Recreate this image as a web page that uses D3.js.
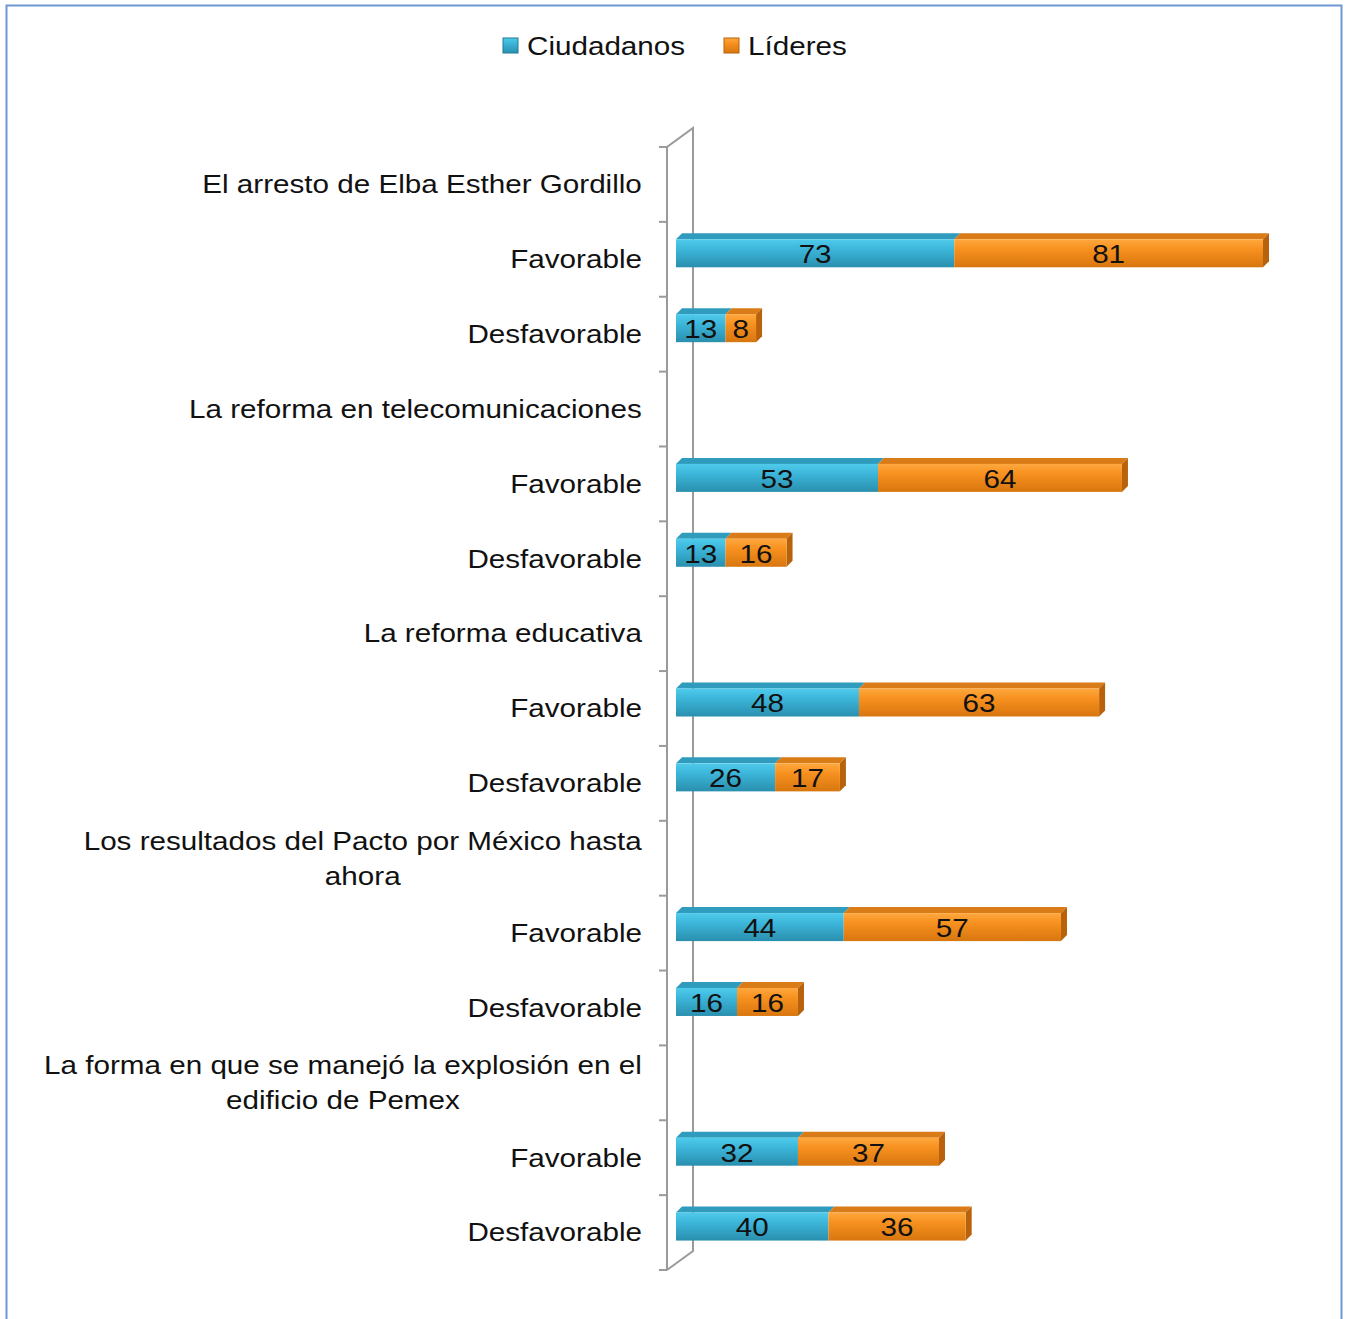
<!DOCTYPE html>
<html>
<head>
<meta charset="utf-8">
<script src="https://cdn.jsdelivr.net/npm/d3@7"></script>
<style>
  body { margin: 0; background: #fff; }
  text { font-family: "Liberation Sans", Arial, sans-serif; fill: #111; }
</style>
</head>
<body>
<div id="chart"></div>
<script>
// data
var categories = [
  "El arresto de Elba Esther Gordillo", "Favorable", "Desfavorable",
  "La reforma en telecomunicaciones", "Favorable", "Desfavorable",
  "La reforma educativa", "Favorable", "Desfavorable",
  "Los resultados del Pacto por México hasta ahora", "Favorable", "Desfavorable",
  "La forma en que se manejó la explosión en el edificio de Pemex", "Favorable", "Desfavorable"
];
var ciudadanos = [null, 73, 13, null, 53, 13, null, 48, 26, null, 44, 16, null, 32, 40];
var lideres = [null, 81, 8, null, 64, 16, null, 63, 17, null, 57, 16, null, 37, 36];
var seriesNames = ["Ciudadanos", "Líderes"];

const W = 1346, H = 1319;
const SX = 1.14;          // text is a bit stretched horizontally
const FS = 26;
const depthX = 6, depthY = 6;
const barH = 28;

const svg = d3.select("#chart").append("svg")
  .attr("width", W).attr("height", H);

const defs = svg.append("defs");
function grad(id, stops) {
  const g = defs.append("linearGradient").attr("id", id)
    .attr("x1", 0).attr("y1", 0).attr("x2", 0).attr("y2", 1);
  stops.forEach(s => g.append("stop").attr("offset", s[0]).attr("stop-color", s[1]));
}
grad("gBlue", [[0, "#4fcbec"], [0.35, "#3cb6da"], [1, "#2a8fae"]]);
grad("gOrange", [[0, "#ffa83f"], [0.35, "#f7911f"], [1, "#d8760f"]]);

const colors = {
  front: ["url(#gBlue)", "url(#gOrange)"],
  top: ["#2f9cbd", "#d97b17"],
  side: ["#237a95", "#b9620c"]
};

// outer border
svg.append("rect")
  .attr("x", 6.5).attr("y", 5.5)
  .attr("width", 1335).attr("height", 1330)
  .attr("fill", "none").attr("stroke", "#6d98d4").attr("stroke-width", 2);

// scales
const y = d3.scaleBand()
  .domain(categories.map((d, i) => i))
  .range([147, 1270])
  .padding(0);

const totalMax = d3.max(categories.map((d, i) => (ciudadanos[i] || 0) + (lideres[i] || 0)));
const x = d3.scaleLinear().domain([0, totalMax]).range([676, 1263]);

// 3d axis walls
const axisG = svg.append("g");
const frontX = 667, backX = 693, wallDy = 19;
axisG.append("path")
  .attr("d", `M${frontX},${y.range()[1]} L${frontX},${y.range()[0]} L${backX},${y.range()[0] - wallDy} L${backX},${y.range()[1] - wallDy} L${frontX},${y.range()[1]}`)
  .attr("fill", "none").attr("stroke", "#9a9a9a").attr("stroke-width", 2);

const tickPos = categories.map((d, i) => y(i)).concat([y.range()[1]]);
axisG.selectAll(".tick")
  .data(tickPos)
  .join("line")
  .attr("class", "tick")
  .attr("x1", frontX - 8).attr("x2", frontX)
  .attr("y1", d => d).attr("y2", d => d)
  .attr("stroke", "#9a9a9a").attr("stroke-width", 2);

// category labels
const labelRight = 642, maxW = 610, lineH = 35;
const labG = svg.append("g");
categories.forEach(function(c, i) {
  const cy = y(i) + y.bandwidth() / 2;
  // wrap words
  const words = c.split(" ");
  const tmp = labG.append("text").attr("font-size", FS);
  let lines = [], cur = "";
  words.forEach(function(w) {
    const test = cur ? cur + " " + w : w;
    tmp.text(test);
    if (tmp.node().getComputedTextLength() * SX > maxW && cur) {
      lines.push(cur);
      cur = w;
    } else {
      cur = test;
    }
  });
  lines.push(cur);
  let widest = 0;
  lines.forEach(l => { tmp.text(l); widest = Math.max(widest, tmp.node().getComputedTextLength() * SX); });
  tmp.remove();
  const cx = labelRight - widest / 2;
  const y0 = cy - (lines.length - 1) * lineH / 2;
  lines.forEach(function(l, k) {
    labG.append("text")
      .attr("transform", `translate(${cx},${y0 + k * lineH}) scale(${SX},1)`)
      .attr("text-anchor", "middle")
      .attr("dominant-baseline", "central")
      .attr("font-size", FS)
      .text(l);
  });
});

// stacked bars
const rows = categories.map((c, i) => ({ i: i, vals: [ciudadanos[i], lideres[i]] }))
  .filter(r => r.vals[0] != null);

const barG = svg.append("g");
rows.forEach(function(r) {
  const yFront = y(r.i) + y.bandwidth() / 2 - 20;
  let acc = 0;
  const segs = r.vals.map(function(v, s) {
    const seg = { s: s, v: v, x0: x(acc), x1: x(acc + v) };
    acc += v;
    return seg;
  });
  const g = barG.append("g");
  // top faces
  g.selectAll(".topf").data(segs).join("path")
    .attr("d", d => `M${d.x0},${yFront} L${d.x0 + depthX},${yFront - depthY} L${d.x1 + depthX},${yFront - depthY} L${d.x1},${yFront} Z`)
    .attr("fill", d => colors.top[d.s]);
  // right end face of last segment
  const last = segs[segs.length - 1];
  g.append("path")
    .attr("d", `M${last.x1},${yFront} L${last.x1 + depthX},${yFront - depthY} L${last.x1 + depthX},${yFront + barH - depthY} L${last.x1},${yFront + barH} Z`)
    .attr("fill", colors.side[last.s]);
  // front faces
  g.selectAll(".front").data(segs).join("rect")
    .attr("x", d => d.x0).attr("y", yFront)
    .attr("width", d => d.x1 - d.x0).attr("height", barH)
    .attr("fill", d => colors.front[d.s]);
  // values
  g.selectAll(".val").data(segs).join("text")
    .attr("transform", d => `translate(${(d.x0 + d.x1) / 2},${yFront + barH / 2 + 1}) scale(${SX},1)`)
    .attr("text-anchor", "middle")
    .attr("dominant-baseline", "central")
    .attr("font-size", FS)
    .text(d => d.v);
});

// legend
const legend = svg.append("g");
const legX = [503, 724];
seriesNames.forEach(function(n, s) {
  const lg = legend.append("g").attr("transform", `translate(${legX[s]},38)`);
  lg.append("rect").attr("width", 15).attr("height", 15)
    .attr("fill", colors.front[s]).attr("stroke", colors.side[s]).attr("stroke-width", 1);
  lg.append("text")
    .attr("transform", `translate(24,8) scale(${SX},1)`)
    .attr("dominant-baseline", "central")
    .attr("font-size", FS)
    .text(n);
});
</script>
</body>
</html>
